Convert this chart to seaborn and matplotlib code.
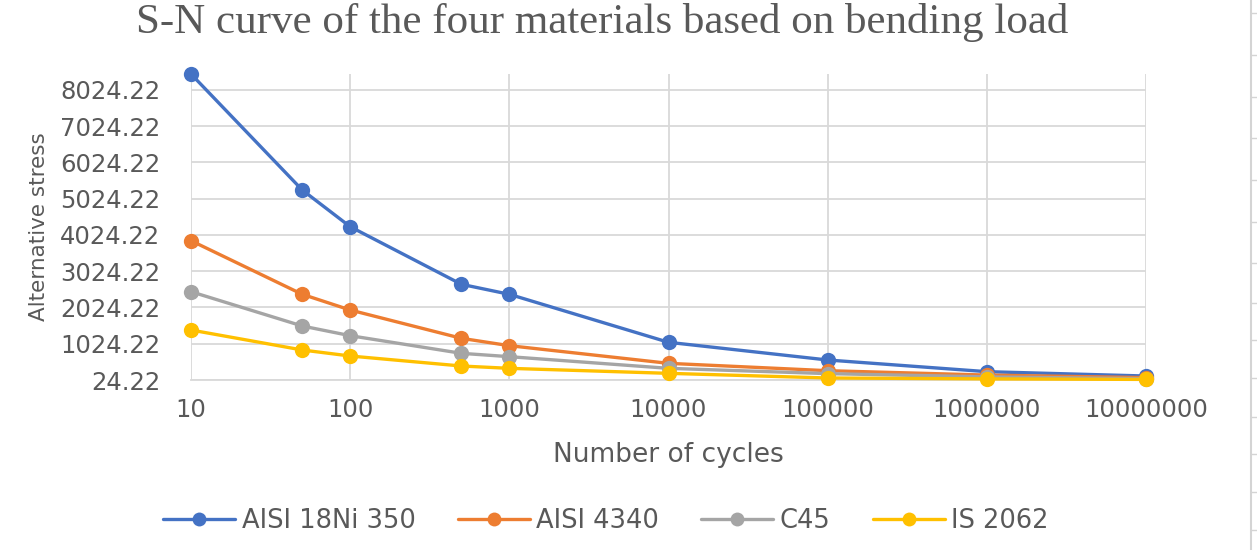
import numpy as np
import pandas as pd
import matplotlib
matplotlib.use("Agg")
import matplotlib.pyplot as plt
from matplotlib.lines import Line2D
from matplotlib.ticker import FixedLocator, FixedFormatter
import seaborn as sns

# Fatigue data: number of cycles vs. alternating stress for each material
cycles = [10, 50, 100, 500, 1000, 10000, 100000, 1000000, 10000000]
aisi_18ni_350 = [8465, 5265, 4253, 2664, 2388, 1064, 576, 254, 134]
aisi_4340 = [3867, 2388, 1955, 1174, 971, 484, 281, 160, 90]
c45 = [2460, 1514, 1247, 760, 668, 346, 200, 110, 60]
is_2062 = [1403, 852, 686, 410, 346, 208, 80, 55, 40]

materials = ["AISI 18Ni 350", "AISI 4340", "C45", "IS 2062"]
colors = ["#4472C4", "#ED7D31", "#A5A5A5", "#FFC000"]

y_ticks = [24.22 + 1000 * k for k in range(9)]
y_tick_labels = [f"{v:.2f}" for v in y_ticks]
x_ticks = [10, 100, 1000, 10000, 100000, 1000000, 10000000]
x_tick_labels = ["10", "100", "1000", "10000", "100000", "1000000", "10000000"]

df = pd.DataFrame({
    "cycles": cycles * 4,
    "stress": aisi_18ni_350 + aisi_4340 + c45 + is_2062,
    "material": [m for m in materials for _ in cycles],
})

sns.set_theme(style="white")
plt.rcParams["font.family"] = ["DejaVu Sans"]

W, H = 1257, 550
text_color = "#595959"
grid_color = "#D9D9D9"

fig = plt.figure(figsize=(W / 100, H / 100), dpi=100)
ax = fig.add_axes([191 / W, 1 - 380 / H, (1146 - 191) / W, (380 - 74) / H])

sns.lineplot(
    data=df, x="cycles", y="stress", hue="material", hue_order=materials,
    palette=colors, marker="o", markersize=11, markeredgewidth=0,
    linewidth=2.4, ax=ax, legend=False, clip_on=False, zorder=3,
)

ax.set_xscale("log")
ax.set_xlim(10, 10000000)
ax.set_ylim(24.22, 8465)

ax.xaxis.set_major_locator(FixedLocator(x_ticks))
ax.xaxis.set_major_formatter(FixedFormatter(x_tick_labels))
ax.xaxis.set_minor_locator(FixedLocator([]))
ax.yaxis.set_major_locator(FixedLocator(y_ticks))
ax.yaxis.set_major_formatter(FixedFormatter(y_tick_labels))
ax.grid(True, color=grid_color, linewidth=1.3)
ax.set_axisbelow(True)
for side in ["top", "right", "left"]:
    ax.spines[side].set_visible(False)
ax.spines["bottom"].set_color(grid_color)
ax.spines["bottom"].set_linewidth(1.3)
ax.tick_params(axis="both", length=0, colors=text_color, labelsize=17.5)
ax.tick_params(axis="y", pad=22)
ax.tick_params(axis="x", pad=13)

ax.set_xlabel("Number of cycles", fontsize=19, color=text_color, labelpad=14)
ax.set_ylabel("Alternative stress", fontsize=15.5, color=text_color, labelpad=8)

fig.text(602 / W, 1 - 23 / H, "S-N curve of the four materials based on bending load",
         ha="center", va="center", fontsize=31, color=text_color,
         family="Liberation Serif")

handles = [
    Line2D([], [], color=c, linewidth=2.4, marker="o", markersize=10,
           markeredgewidth=0)
    for c in colors
]
fig.legend(handles, materials, loc="center", bbox_to_anchor=(606 / W, 1 - 521 / H),
           ncol=4, frameon=False, fontsize=18.5, handlelength=2.8,
           columnspacing=1.65, handletextpad=0.25, labelcolor=text_color)

# Worksheet border along the right edge
fig.add_artist(Line2D([1251 / W, 1251 / W], [0, 1], transform=fig.transFigure,
                      color="#D4D4D4", linewidth=1.5))
for yp in [13, 55, 97, 138, 180, 222, 263, 303, 340, 378, 417, 454, 492, 530]:
    fig.add_artist(Line2D([1251 / W, 1257 / W], [1 - yp / H, 1 - yp / H],
                          transform=fig.transFigure, color="#D4D4D4", linewidth=1))

fig.savefig("out.png", dpi=100)
